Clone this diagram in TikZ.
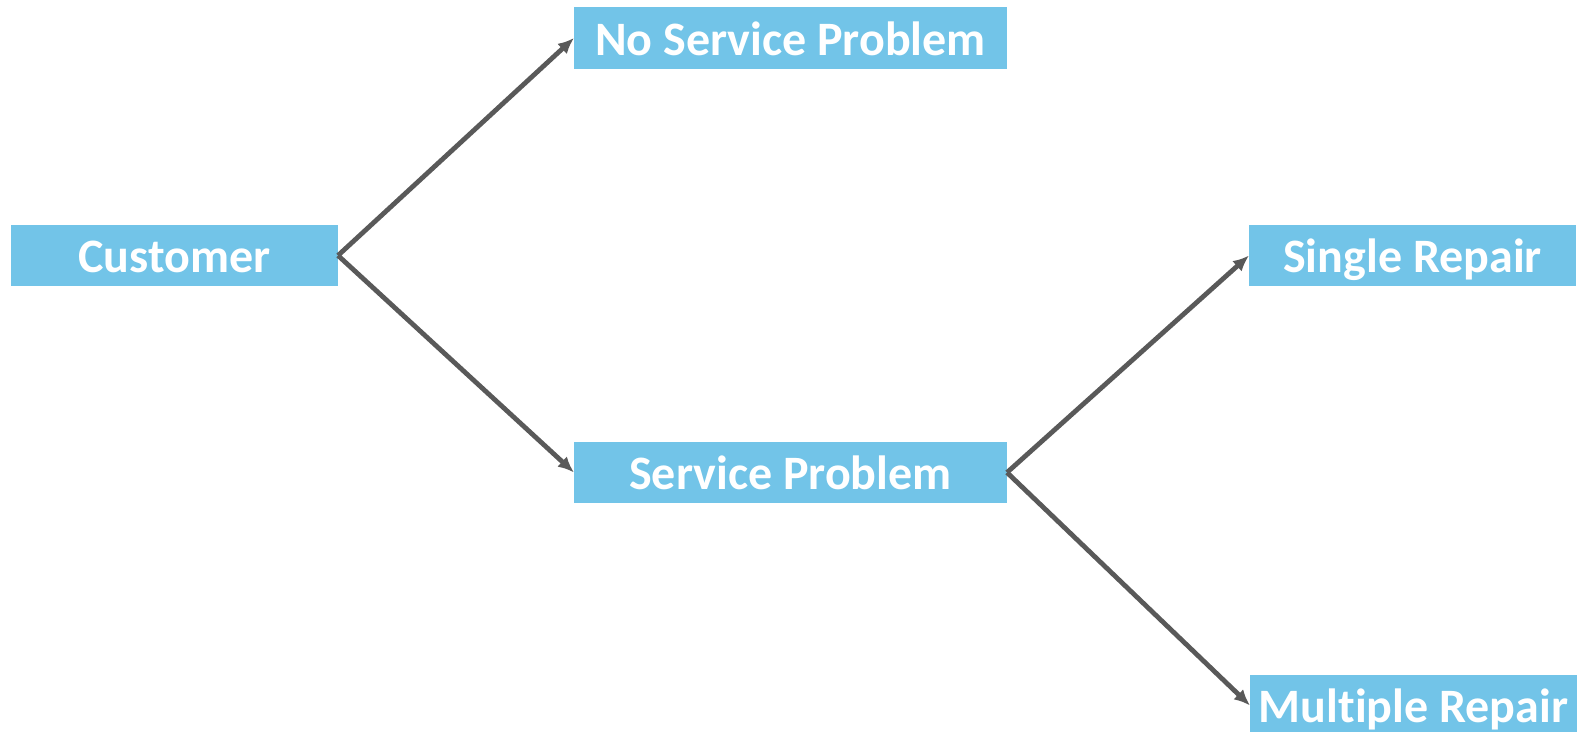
\documentclass[tikz,border=0pt]{standalone}
\usepackage{fontspec}
\setmainfont[Ligatures=NoCommon]{Carlito}
\usetikzlibrary{arrows.meta}
\definecolor{boxblue}{RGB}{114,196,232}
\definecolor{linegray}{RGB}{89,89,89}
\tikzset{
  box/.style={fill=boxblue, draw=none, inner sep=0pt, outer sep=0pt,
    text=white, font=\fontsize{24}{28}\selectfont\bfseries, anchor=center,
    text height=22pt, text depth=4.6pt},
  link/.style={draw=linegray, line width=2.4pt,
    -{Latex[length=8pt,width=7pt]}}
}
\begin{document}
\begin{tikzpicture}[x=0.5pt,y=-0.5pt]
  \useasboundingbox (0,0) rectangle (1580,732);
  \node[box, minimum width=163.5pt, minimum height=30.5pt] (cust) at (174.5,255.5) {Customer};
  \node[box, minimum width=216.5pt, minimum height=31pt] (nsp) at (790.5,38) {No Service Problem};
  \node[box, minimum width=216.5pt, minimum height=30.5pt] (sp) at (790.5,472.5) {Service Problem};
  \node[box, minimum width=163.5pt, minimum height=30.5pt] (sr) at (1412.5,255.5) {Single Repair};
  \node[box, minimum width=163.5pt, minimum height=30.5pt] (mr) at (1413.5,705.5) {Multiple Repair};
  \draw[link] (cust.east) -- (nsp.west);
  \draw[link] (cust.east) -- (sp.west);
  \draw[link] (sp.east) -- (sr.west);
  \draw[link] (sp.east) -- (mr.west);
\end{tikzpicture}
\end{document}
